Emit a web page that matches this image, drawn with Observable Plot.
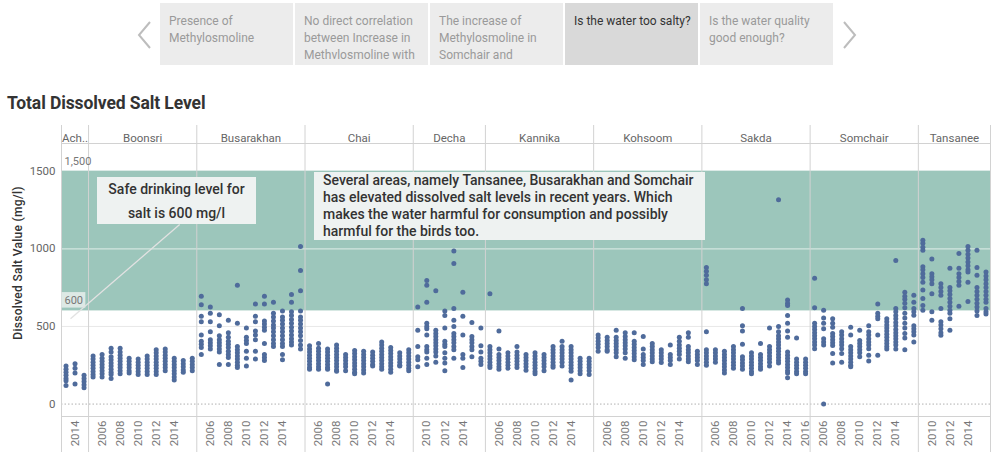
<!DOCTYPE html>
<html><head><meta charset="utf-8">
<script src="https://cdn.jsdelivr.net/npm/d3@7"></script>
<script src="https://cdn.jsdelivr.net/npm/@observablehq/plot@0.6"></script>
<style>
body{margin:0;background:#fff;font-family:Roboto,"Noto Sans",sans-serif;}
#wrap{position:relative;width:1000px;height:456px;overflow:hidden;}
#chart{position:absolute;left:0;top:0;}
.nav{position:absolute;top:3px;width:133px;height:62px;background:#ececec;color:#9a9a9a;font-size:12px;line-height:17px;padding:10px 0 0 9px;box-sizing:border-box;overflow:hidden;white-space:nowrap;}
.nav.sel{background:#d9d9d9;color:#333;}
.arrow{position:absolute;top:20px;}
.title{position:absolute;left:7px;top:93px;font-size:17.5px;font-weight:700;color:#333;white-space:nowrap;letter-spacing:-0.1px;}
.note{position:absolute;background:#eef2f1;color:#333;font-weight:500;font-size:14px;box-sizing:border-box;white-space:nowrap;}
.ytitle{position:absolute;left:18px;top:263px;transform:translate(-50%,-50%) rotate(-90deg);font-size:12px;letter-spacing:0.3px;font-weight:500;color:#333;white-space:nowrap;}
</style>
</head><body>
<div id="wrap">
<div id="chart"></div>
<svg class="arrow" style="left:136px" width="18" height="30"><polyline points="14,2 3,15 14,28" fill="none" stroke="#bdbdbd" stroke-width="2"/></svg>
<svg class="arrow" style="left:840px" width="18" height="30"><polyline points="4,2 15,15 4,28" fill="none" stroke="#bdbdbd" stroke-width="2"/></svg>
<div class="nav" style="left:160px">Presence of<br>Methylosmoline</div>
<div class="nav" style="left:295px">No direct correlation<br>between Increase in<br>Methvlosmoline with</div>
<div class="nav" style="left:430px">The increase of<br>Methylosmoline in<br>Somchair and</div>
<div class="nav sel" style="left:565px">Is the water too salty?</div>
<div class="nav" style="left:700px">Is the water quality<br>good enough?</div>
<div class="title">Total Dissolved Salt Level</div>
<div class="ytitle">Dissolved Salt Value (mg/l)</div>
<div class="note" style="left:97px;top:177px;width:159px;height:47px;text-align:center;line-height:24px;">Safe drinking level for<br>salt is 600 mg/l</div>
<div class="note" style="left:314px;top:172px;width:391px;height:68px;padding-left:9px;line-height:17px;">Several areas, namely Tansanee, Busarakhan and Somchair<br>has elevated dissolved salt levels in recent years. Which<br>makes the water harmful for consumption and possibly<br>harmful for the birds too.</div>
</div>
<script>
const locations = ["Achara","Boonsri","Busarakhan","Chai","Decha","Kannika","Kohsoom","Sakda","Somchair","Tansanee"];
const headerLabels = ["Ach..","Boonsri","Busarakhan","Chai","Decha","Kannika","Kohsoom","Sakda","Somchair","Tansanee"];
const firstYear = [2013,2005,2005,2005,2009,2005,2005,2005,2005,2009];
const tickYears = [
  [2014],
  [2006,2008,2010,2012,2014],
  [2006,2008,2010,2012,2014],
  [2006,2008,2010,2012,2014],
  [2010,2012,2014],
  [2006,2008,2010,2012,2014],
  [2006,2008,2010,2012,2014],
  [2006,2008,2010,2012,2014,2016],
  [2006,2008,2010,2012,2014],
  [2010,2012,2014]
];
const yTicks = [0,500,1000,1500];
const safeBand = {lo: 600, hi: 1500};

// values per location, one array per year
const achara = [
  [245,225,205,185,165,150,120],
  [260,230,200,130],
  [185,165,145,125,105]
];
const boonsri = [
  [310,290,270,250,230,210,190,175],
  [320,295,275,255,235,215,195,175],
  [360,335,305,285,265,245,225,205,190,165],
  [360,335,315,295,275,255,235,215,195],
  [295,275,255,235,215,200],
  [290,270,250,230,210,190],
  [310,290,270,250,230,210,190],
  [350,330,310,290,270,250,230,210,190],
  [355,335,315,295,275,255,235,215],
  [295,275,255,235,215,195,175,155],
  [280,260,240,220,205],
  [295,275,255,235,215]
];
const busarakhan = [
  [695,640,565,530,445,405,385,365,320],
  [625,585,530,465,415,395,375,355],
  [575,505,440,415,395,375,355,335,255],
  [540,460,430,405,385,365,340,320,300,255],
  [765,520,370,350,330,310,290,270,250,235],
  [490,430,410,390,340,295,245],
  [645,565,530,470,445,415,340,290],
  [695,645,535,515,495,475,390,320,300,280],
  [655,585,560,535,510,490,465,440,415,390,370],
  [600,560,540,515,490,465,440,415,390,370,320,285],
  [705,655,595,570,545,520,495,470,445,420,400,380],
  [1015,860,730,600,560,540,515,490,465,440,410,380,355]
];
const chai = [
  [375,355,335,315,295,275,255,235,225],
  [390,360,340,320,300,280,260,240,225],
  [355,335,315,295,275,255,235,225,130],
  [380,360,340,320,300,280,260,240,220,212],
  [320,300,280,260,240,215],
  [345,325,305,285,265,245,225,205,195],
  [340,320,300,280,260,240,220,200],
  [335,315,295,275,255,245],
  [400,380,360,340,320,300,280,260,240,225],
  [365,345,325,305,285,265,245,225,205],
  [330,310,290,270,250,245],
  [350,330,310,290,270,250,230,215]
];
const decha = [
  [625,475,370,305,285,240],
  [795,765,655,520,500,485,445,370,350,335,295,255],
  [730,475,455,435,415,395,375,355,335,310,270],
  [600,570,490,405,385,370,330,295,265,215],
  [985,905,615,540,500,455,435,415,395,370,350,295],
  [720,565,445,320,295,235],
  [525,435,415,395,370,350,305],
  [490,375,335,295,275,255]
];
const kannika = [
  [710,370,350,330,310,290,270,250,235],
  [470,355,320,300,280,260,240,225],
  [330,310,290,270,250,230],
  [370,335,315,295,275,255,235],
  [320,300,280,260,240,218],
  [330,310,290,270,250,230,210,195],
  [320,300,280,260,240,215],
  [370,350,330,310,290,270,250,237],
  [405,370,350,330,310,290,270,245],
  [370,350,330,310,290,270,250,230,212,155],
  [295,275,255,235,215,195],
  [295,275,255,235,215,190]
];
const kohsoom = [
  [445,425,405,385,365,340],
  [430,410,390,370,350,340],
  [475,430,410,390,370,350,330,305],
  [460,435,415,395,375,355,330,295],
  [460,405,385,365,345,325,305,285],
  [435,355,320,300,280,255],
  [390,370,350,330,310,290,272],
  [350,330,310,290,268],
  [380,320,300,280,255],
  [430,405,380,360,340,320,290],
  [460,430,370,350,330,310,290,272],
  [340,320,300,280,255]
];
const sakda = [
  [880,855,830,800,775,465,350,330,310,290,270,250],
  [350,330,310,290,270],
  [340,320,300,280,260,240,220,200],
  [370,350,330,310,290,270,250,230],
  [615,505,470,385,305,285,265,245,225],
  [330,310,290,270,250,230,210,195],
  [390,320,300,280,260,240,225],
  [490,370,350,330,310,290,270,245],
  [1315,500,465,440,420,400,380,360,340,320,300,280,265],
  [670,650,635,570,520,470,430,335,315,295,275,255,235,215,200,170],
  [425,290,270,250,230,210,195],
  [290,270,250,230,210,195]
];
const somchair = [
  [810,620,520,500,480,460,440,420,400,380,357],
  [605,555,520,485,420,400,380,0],
  [550,520,495,455,435,415,395,378,325,265],
  [465,445,420,400,380,357,325,270],
  [495,445,370,350,330,310,290,270,250,240],
  [475,410,390,370,350,330,305],
  [505,465,445,420,400,380,357,315,277],
  [645,585,565,550,445,315],
  [550,530,510,490,470,450,430,410,390,370,355],
  [925,615,595,570,550,525,505,480,460,440,420,400,380,355],
  [720,695,675,650,620,585,555,520,490,455,425,350],
  [700,655,615,595,572,505,485,465,445,400]
];
const tansanee = [
  [1055,1035,1010,990,885,865,840,815,785,735,680,635,605],
  [935,840,820,800,775,710,595,540],
  [775,750,725,700,615,530,510,485,460,443],
  [875,750,730,705,680,655,630,605,585,550,475],
  [970,875,840,815,790,765,630],
  [1015,990,965,940,915,890,865,850,785,660],
  [990,880,830,750,725,700,675,650,625,600,570],
  [850,825,800,775,750,725,700,675,655,615,595,580]
];
const seriesByLoc = [achara,boonsri,busarakhan,chai,decha,kannika,kohsoom,sakda,somchair,tansanee];

// annotation pointer (data space: column index, mg/l)
const noteLink = [{x1: 0.5, y1: 550, x2: 12.6, y2: 1156}];

// build table
const rows = [], bounds = [-0.5], headers = [], ticks = [], yearOf = {};
let offset = 0;
locations.forEach((loc, li) => {
  const vals = seriesByLoc[li], y0 = firstYear[li];
  vals.forEach((arr, yi) => {
    yearOf[offset + yi] = String(y0 + yi);
    arr.forEach(v => rows.push({loc, year: y0 + yi, idx: offset + yi, value: v}));
  });
  headers.push({center: offset + (vals.length - 1) / 2, label: headerLabels[li]});
  tickYears[li].forEach(yr => ticks.push(offset + yr - y0));
  offset += vals.length;
  bounds.push(offset - 0.5);
});
const xMin = -0.5, xMax = offset - 0.5;
const band = [{x1: xMin, x2: xMax, lo: safeBand.lo, hi: safeBand.hi}];
const refLabels = [{x: xMin, y: safeBand.hi, t: "1,500"}, {x: xMin, y: safeBand.lo, t: "600"}];
const labelBox = [{x1: xMin + 0.05, x2: xMin + 2.7, y1: safeBand.lo + 18, y2: safeBand.lo + 118}];

const chart = Plot.plot({
  width: 1000, height: 456,
  marginTop: 143, marginBottom: 40, marginLeft: 61, marginRight: 10,
  x: {domain: [xMin, xMax]},
  y: {domain: [-80, 1678]},
  style: {fontFamily: "Roboto, 'Noto Sans', sans-serif", fontSize: "11px", color: "#666", background: "transparent"},
  marks: [
    Plot.rect(band, {x1: "x1", x2: "x2", y1: "lo", y2: "hi", fill: "#9cc6bb"}),
    Plot.ruleY([500], {stroke: "#e8e8e8"}),
    Plot.ruleY([1000], {stroke: "#d3e6e0", strokeWidth: 1.2}),
    Plot.ruleY([0], {stroke: "#b0b0b0", strokeDasharray: "1.5,2"}),
    Plot.ruleX(bounds, {stroke: "#d2d2d2", insetTop: -18, insetBottom: -36}),
    Plot.frame({stroke: "#d2d2d2"}),
    Plot.rect(labelBox, {x1: "x1", x2: "x2", y1: "y1", y2: "y2", fill: "#dde9e5"}),
    Plot.text(refLabels, {x: "x", y: "y", text: "t", textAnchor: "start", dx: 3, dy: -10, fill: "#777", fontSize: 11}),
    Plot.link(noteLink, {x1: "x1", y1: "y1", x2: "x2", y2: "y2", stroke: "#e2e2e2", strokeWidth: 1.3}),
    Plot.dot(rows, {x: "idx", y: "value", r: 2.5, fill: "#4f6b9b", stroke: null}),
    Plot.text(headers, {x: "center", text: "label", frameAnchor: "top", dy: -10, fill: "#666", fontSize: 11.5}),
    Plot.axisY(yTicks, {tickSize: 0, tickPadding: 6, tickFormat: d => String(d), fontSize: 11.5, fill: "#666", label: null}),
    Plot.axisX(ticks, {tickFormat: i => yearOf[i], tickRotate: -90, tickSize: 0, tickPadding: 4, fontSize: 11.5, fill: "#777", label: null})
  ]
});
document.getElementById("chart").appendChild(chart);
</script>
</body></html>
